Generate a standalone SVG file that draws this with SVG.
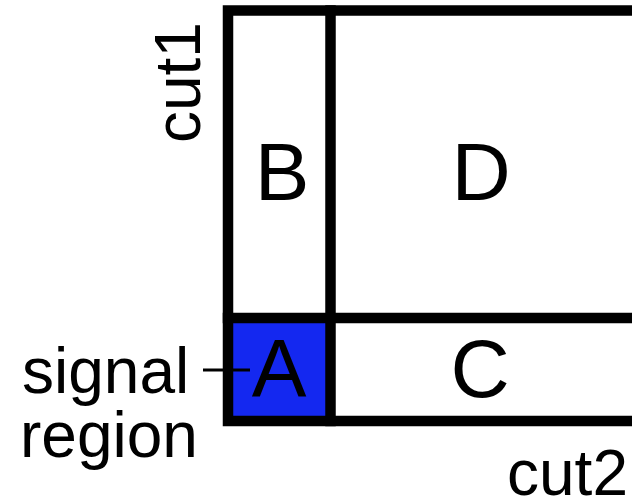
<svg xmlns="http://www.w3.org/2000/svg" width="632" height="499" viewBox="0 0 632 499">
<style>
.ln{stroke:#000;stroke-width:10.5;fill:none;stroke-linecap:square}
.big{font-family:"Liberation Sans",Arial,sans-serif;font-size:82px;fill:#000;text-anchor:middle}
.lbl{font-family:"Liberation Sans",Arial,sans-serif;font-size:64px;fill:#000}
</style>
<rect width="632" height="499" fill="#fff"/>
<g id="A"><rect x="232" y="323" width="94" height="94" fill="#1428f0"/><text class="big" x="279" y="396">A</text></g>
<g id="B"><text class="big" x="282" y="200">B</text></g>
<g id="D"><text class="big" x="481" y="200">D</text></g>
<g id="C"><text class="big" x="480" y="397">C</text></g>
<g id="frame">
<path class="ln" d="M640 10.5 H228 V421 H640"/>
<path class="ln" d="M330.5 10.5 V421"/>
<path class="ln" d="M228 318 H640"/>
</g>
<g id="connectors"><line x1="203" y1="370" x2="250" y2="370" stroke="#000" stroke-width="3"/></g>
<g id="labels">
<text class="lbl" x="22" y="393">signal</text>
<text class="lbl" x="20" y="457">region</text>
<text class="lbl" x="507" y="495">cut2</text>
<text class="lbl" transform="translate(200,143) rotate(-90)">cut1</text>
</g>
</svg>
